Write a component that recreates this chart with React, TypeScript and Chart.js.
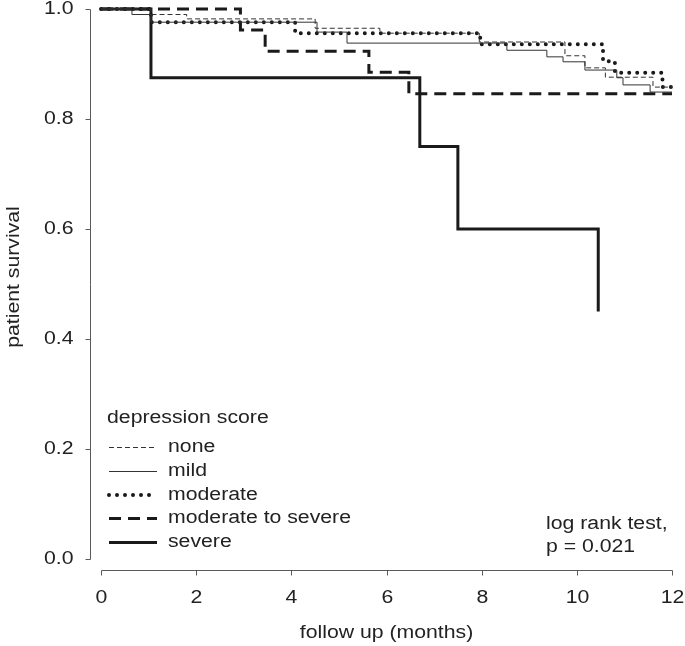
import React, { useEffect, useRef } from "react";
import { Chart, registerables } from "chart.js";

Chart.register(...registerables);

// ---- data (Kaplan–Meier step points: time in months, survival after the step) ----
const noneTimes = [0, 1.05, 1.8, 4.5, 5.86, 7.95, 9.75, 10.17, 10.6, 11.6, 12];
const noneSurv = [1, 0.99, 0.982, 0.965, 0.956, 0.94, 0.915, 0.893, 0.876, 0.858, 0.858];

const mildTimes = [0, 0.65, 1.05, 4.54, 5.17, 8.53, 9.37, 9.71, 10.17, 10.84, 10.97, 11.54, 12];
const mildSurv = [1, 0.99, 0.976, 0.958, 0.938, 0.925, 0.913, 0.904, 0.889, 0.875, 0.862, 0.849, 0.849];

const moderateTimes = [0, 1.05, 4.08, 7.97, 10.55, 10.8, 11.8, 12];
const moderateSurv = [1, 0.976, 0.956, 0.936, 0.905, 0.884, 0.858, 0.858];

const modSevereTimes = [0, 2.93, 3.45, 5.63, 6.47, 12];
const modSevereSurv = [1, 0.962, 0.923, 0.885, 0.846, 0.846];

const severeTimes = [0, 1.05, 6.7, 7.5, 10.45];
const severeSurv = [1, 0.875, 0.75, 0.6, 0.45];

const xTicks = [0, 2, 4, 6, 8, 10, 12];
const yTicks = [0, 0.2, 0.4, 0.6, 0.8, 1.0];
const yTickLabels = ["0.0", "0.2", "0.4", "0.6", "0.8", "1.0"];

const legendTitle = "depression score";
const seriesNames = ["none", "mild", "moderate", "moderate to severe", "severe"];
const xTitle = "follow up (months)";
const yTitle = "patient survival";
const noteLines = ["log rank test,", "p = 0.021"];

// ---- styles ----
const LINE = "#1a1a1a";
const AXIS = "#5a5a5a";
const TEXT = "#222222";
const FONT = '"Liberation Sans", Arial, sans-serif';
const STRETCH = 1.18;
const FS = 18;

const styles = [
  { borderWidth: 1, borderDash: [5, 3], borderCapStyle: "butt", color: "#333" },
  { borderWidth: 1, borderDash: [], borderCapStyle: "butt", color: "#333" },
  { borderWidth: 4, borderDash: [0, 8], borderCapStyle: "round", color: LINE },
  { borderWidth: 3, borderDash: [12, 7], borderCapStyle: "butt", color: LINE },
  { borderWidth: 3, borderDash: [], borderCapStyle: "butt", color: LINE },
];

const toPoints = (t: number[], s: number[]) => t.map((x, i) => ({ x, y: s[i] }));

function drawText(
  ctx: CanvasRenderingContext2D,
  text: string,
  x: number,
  y: number,
  size: number,
  align: CanvasTextAlign,
  rotate = 0
) {
  ctx.save();
  ctx.translate(x, y);
  if (rotate) ctx.rotate(rotate);
  ctx.scale(STRETCH, 1);
  ctx.font = `${size}px ${FONT}`;
  ctx.fillStyle = TEXT;
  ctx.textAlign = align;
  ctx.textBaseline = "middle";
  ctx.fillText(text, 0, 0);
  ctx.restore();
}

const decorPlugin = {
  id: "decor",
  afterDraw(chart: any) {
    const ctx: CanvasRenderingContext2D = chart.ctx;
    const xs = chart.scales.x;
    const ys = chart.scales.y;
    const area = chart.chartArea;
    ctx.save();
    ctx.strokeStyle = AXIS;
    ctx.lineWidth = 1;

    // y axis (offset left)
    const yAxisX = area.left - 10.5;
    ctx.beginPath();
    ctx.moveTo(yAxisX, Math.round(ys.getPixelForValue(1)) + 0.5);
    ctx.lineTo(yAxisX, Math.round(ys.getPixelForValue(0)) + 0.5);
    ctx.stroke();
    yTicks.forEach((v, i) => {
      const py = Math.round(ys.getPixelForValue(v)) + 0.5;
      ctx.beginPath();
      ctx.moveTo(yAxisX, py);
      ctx.lineTo(yAxisX - 5, py);
      ctx.stroke();
      drawText(ctx, yTickLabels[i], yAxisX - 17, py, FS, "right");
    });

    // x axis (offset down)
    const xAxisY = area.bottom + 11.5;
    ctx.beginPath();
    ctx.moveTo(Math.round(xs.getPixelForValue(0)) + 0.5, xAxisY);
    ctx.lineTo(Math.round(xs.getPixelForValue(12)) + 0.5, xAxisY);
    ctx.stroke();
    xTicks.forEach((v) => {
      const px = Math.round(xs.getPixelForValue(v)) + 0.5;
      ctx.beginPath();
      ctx.moveTo(px, xAxisY);
      ctx.lineTo(px, xAxisY + 5);
      ctx.stroke();
      drawText(ctx, String(v), px, xAxisY + 28, FS, "center");
    });

    // axis titles
    drawText(ctx, xTitle, (area.left + area.right) / 2, 633, FS, "center");
    drawText(ctx, yTitle, 14, 277, FS, "center", -Math.PI / 2);

    // legend
    drawText(ctx, legendTitle, 107, 418, FS, "left");
    const rowsY = [447, 471, 495, 518, 542];
    seriesNames.forEach((name, i) => {
      const st = styles[i];
      ctx.save();
      ctx.strokeStyle = st.color;
      ctx.lineWidth = st.borderWidth;
      ctx.setLineDash(st.borderDash);
      ctx.lineCap = st.borderCapStyle as CanvasLineCap;
      ctx.beginPath();
      const yy = st.borderWidth % 2 === 1 ? rowsY[i] + 0.5 : rowsY[i];
      ctx.moveTo(109, yy);
      ctx.lineTo(157, yy);
      ctx.stroke();
      ctx.restore();
      drawText(ctx, name, 168, rowsY[i], FS, "left");
    });

    // note
    drawText(ctx, noteLines[0], 546, 524, FS, "left");
    drawText(ctx, noteLines[1], 546, 547, FS, "left");
    ctx.restore();
  },
};

export default function App() {
  const ref = useRef<HTMLCanvasElement | null>(null);
  useEffect(() => {
    if (!ref.current) return;
    const series = [
      [noneTimes, noneSurv],
      [mildTimes, mildSurv],
      [moderateTimes, moderateSurv],
      [modSevereTimes, modSevereSurv],
      [severeTimes, severeSurv],
    ];
    const chart = new Chart(ref.current, {
      type: "line",
      data: {
        datasets: series.map(([t, s], i) => ({
          label: seriesNames[i],
          data: toPoints(t, s),
          stepped: "before",
          borderColor: styles[i].color,
          borderWidth: styles[i].borderWidth,
          borderDash: styles[i].borderDash,
          borderCapStyle: styles[i].borderCapStyle,
          pointRadius: 0,
          fill: false,
          clip: false,
        })) as any,
      },
      options: {
        animation: false,
        responsive: false,
        maintainAspectRatio: false,
        layout: { padding: { left: 101, right: 13, top: 9, bottom: 87 } },
        plugins: { legend: { display: false }, tooltip: { enabled: false } },
        scales: {
          x: { type: "linear", min: 0, max: 12, display: false },
          y: { type: "linear", min: 0, max: 1, display: false },
        },
      },
      plugins: [decorPlugin],
    });
    return () => chart.destroy();
  }, []);
  return (
    <div style={{ position: "fixed", left: 0, top: 0, width: 685, height: 646, background: "#fff" }}>
      <canvas ref={ref} width={685} height={646} style={{ width: 685, height: 646 }} />
    </div>
  );
}
